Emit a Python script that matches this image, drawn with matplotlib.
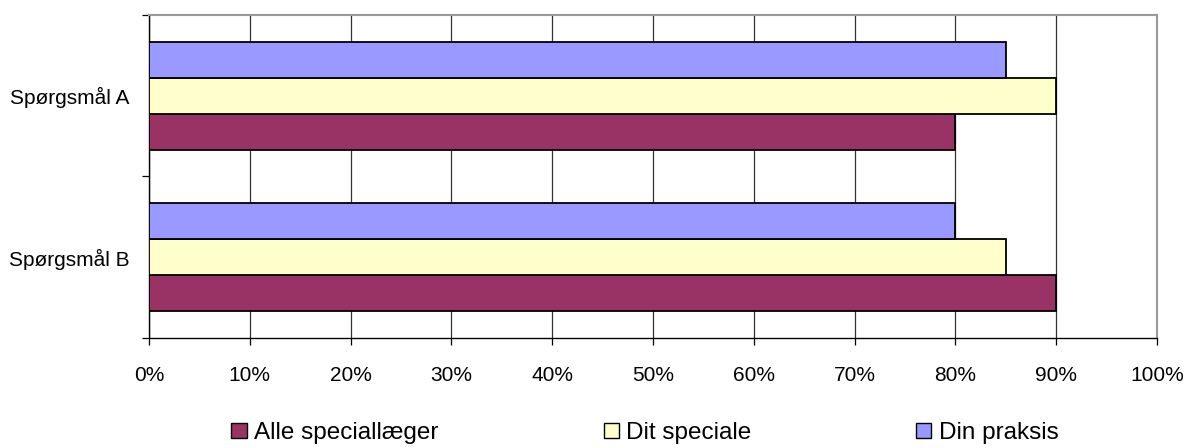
import matplotlib
matplotlib.use("Agg")
import matplotlib.pyplot as plt
from matplotlib.patches import Patch
from matplotlib.ticker import FixedLocator, FuncFormatter

plt.rcParams['font.family'] = ['Liberation Sans', 'DejaVu Sans']

categories = ["Spørgsmål A", "Spørgsmål B"]
series_names = ["Alle speciallæger", "Dit speciale", "Din praksis"]
alle = [80, 90]
dit = [90, 85]
din = [85, 80]
colors = ["#993366", "#FFFFCC", "#9999FF"]
xticks = [0, 10, 20, 30, 40, 50, 60, 70, 80, 90, 100]

fig = plt.figure(figsize=(11.87, 4.48), dpi=100)
ax = fig.add_axes([149/1187, 1-338/448, (1157-149)/1187, (338-15)/448])

n = len(categories)
centers = [n - 0.5 - i for i in range(n)]
h = 0.223
for k, (vals, col) in enumerate(zip([alle, dit, din], colors)):
    offs = (k - 1) * h
    ax.barh([c + offs for c in centers], vals, height=h, color=col,
            edgecolor="black", linewidth=1.3, zorder=3)

ax.set_xlim(0, 100)
ax.set_ylim(0, n)
ax.xaxis.set_major_locator(FixedLocator(xticks))
ax.xaxis.set_major_formatter(FuncFormatter(lambda v, p: f"{int(v)}%"))
ax.grid(axis="x", color="#333333", linewidth=0.9, zorder=0)

ax.set_yticks(list(range(n + 1)))
ax.set_yticklabels([])
ax.set_yticks(centers, minor=True)
ax.set_yticklabels(categories, minor=True)
ax.tick_params(axis="y", which="minor", length=0, pad=14, labelsize=15)
ax.tick_params(axis="y", which="major", length=5, direction="out", width=0.9)
ax.tick_params(axis="x", length=5, direction="out", width=0.9, labelsize=15, pad=15)

for s in ["left", "bottom"]:
    ax.spines[s].set_color("black")
    ax.spines[s].set_linewidth(1.0)
for s in ["top", "right"]:
    ax.spines[s].set_color("#999999")
    ax.spines[s].set_linewidth(1.5)

handles = [Patch(facecolor=c, edgecolor="black", linewidth=1.0) for c in colors]
fig.legend(handles, series_names, loc="center", bbox_to_anchor=(645/1187, 1-433/448),
           ncol=3, frameon=False, fontsize=17.5, handlelength=0.62, handleheight=0.62,
           handletextpad=0.3, columnspacing=6.8, borderpad=0.1)

fig.savefig("out.png", dpi=100)
